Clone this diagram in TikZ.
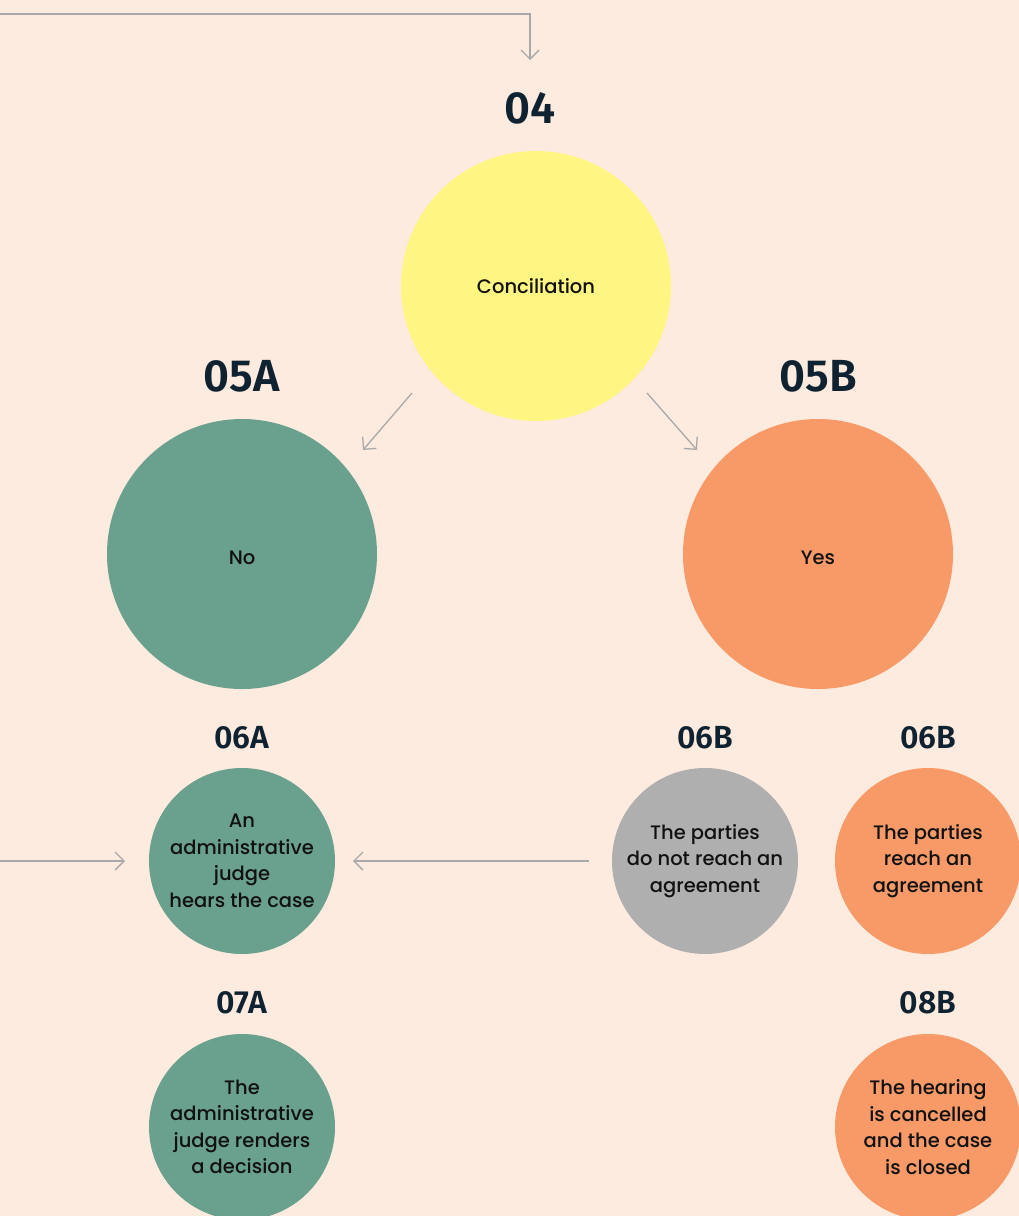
\documentclass[tikz,border=0pt]{standalone}
\usepackage{fontspec}
\setmainfont{Fira Sans}
\newfontfamily\medfont{Poppins Medium}
\newfontfamily\headfont{Fira Sans SemiBold}
\usetikzlibrary{arrows.meta}
\definecolor{bgc}{HTML}{FEEBDF}
\definecolor{yel}{HTML}{FFF582}
\definecolor{grn}{HTML}{6AA08E}
\definecolor{org}{HTML}{F79A68}
\definecolor{gry}{HTML}{B0AFAF}
\definecolor{head}{HTML}{0E2231}
\definecolor{txt}{HTML}{111111}
\definecolor{lin}{HTML}{A9A9A9}
\tikzset{
  x=1pt, y=-1pt,
  bigc/.style={circle, inner sep=0pt, minimum size=270pt, font=\medfont\fontsize{19.5}{26}\selectfont, text=txt, align=center},
  smallc/.style={circle, inner sep=0pt, minimum size=186pt, font=\medfont\fontsize{19.5}{26.5}\selectfont, text=txt, align=center},
  bighead/.style={font=\headfont\fontsize{45}{45}\selectfont, text=head, inner sep=0pt},
  smallhead/.style={font=\headfont\fontsize{32}{32}\selectfont, text=head, inner sep=0pt},
  conn/.style={draw=lin, line width=1.3pt, -{Straight Barb[length=9pt,width=18pt,line width=1.3pt]}},
}
\begin{document}
\begin{tikzpicture}
\clip (0,0) rectangle (1019,1216);
\fill[bgc] (0,0) rectangle (1019,1216);
\useasboundingbox (0,0) rectangle (1019,1216);

% headings
\node[bighead] (h04) at (530,108) {04};
\node[bighead] (h05a) at (242,376) {05A};
\node[bighead] (h05b) at (818,376) {05B};
\node[smallhead] (h06a) at (242,738) {06A};
\node[smallhead] (h06b1) at (705,738) {06B};
\node[smallhead] (h06b2) at (928,738) {06B};
\node[smallhead] (h07a) at (242,1003) {07A};
\node[smallhead] (h08b) at (928,1003) {08B};

% circles
\node[bigc, fill=yel] (conc) at (536,286) {Conciliation};
\node[bigc, fill=grn] (no) at (242,554) {\raisebox{-10pt}[0pt][0pt]{No}};
\node[bigc, fill=org] (yes) at (818,554) {\raisebox{-10pt}[0pt][0pt]{Yes}};
\node[smallc, fill=grn] (hears) at (242,861) {An\\administrative\\judge\\hears the case};
\node[smallc, fill=gry] (noagree) at (705,861) {The parties\\do not reach an\\agreement};
\node[smallc, fill=org] (agree) at (928,861) {The parties\\reach an\\agreement};
\node[smallc, fill=grn] (decision) at (242,1127) {The\\administrative\\judge renders\\a decision};
\node[smallc, fill=org] (closed) at (928,1127) {The hearing\\is cancelled\\and the case\\is closed};

% connector end points
\coordinate (topstart) at (0,14);
\coordinate (topend) at (530,60);
\coordinate (dlS) at (412,393);
\coordinate (dlE) at (363,450);
\coordinate (drS) at (647,393);
\coordinate (drE) at (697,450);
\coordinate (lS) at (0,861);
\coordinate (lE) at (125,861);
\coordinate (mS) at (589,861);
\coordinate (mE) at (353,861);

% connectors
\draw[conn] (topstart) -| (topend);
\draw[conn] (dlS) -- (dlE);
\draw[conn] (drS) -- (drE);
\draw[conn] (lS) -- (lE);
\draw[conn] (mS) -- (mE);
\end{tikzpicture}
\end{document}
